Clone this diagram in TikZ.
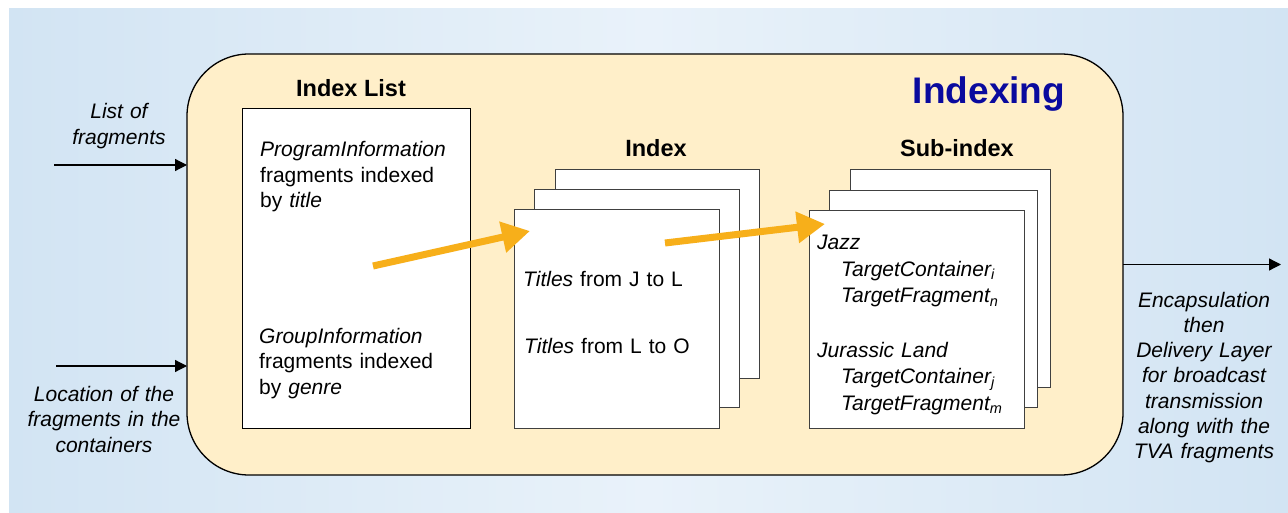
\documentclass[tikz,border=0pt]{standalone}
\usepackage{fontspec}
\setmainfont{Liberation Sans}
\usetikzlibrary{arrows.meta}
\definecolor{bgedge}{HTML}{D2E4F3}
\definecolor{bgmid}{HTML}{E9F2FA}
\definecolor{boxfill}{HTML}{FFEFC9}
\definecolor{navy}{HTML}{0A0A9E}
\definecolor{orangeA}{HTML}{F7AF1A}
\newcommand\lowidx[1]{\raisebox{-3.5pt}{\fontsize{14.5}{14.5}\selectfont #1}}
\begin{document}
\begin{tikzpicture}[x=1pt,y=-1pt,
  page/.style={draw=black!75, fill=white, line width=1pt, inner sep=0pt, outer sep=0pt},
  listbox/.style={draw=black, fill=white, line width=1pt, inner sep=0pt, outer sep=0pt},
  body/.style={font=\fontsize{21}{25.3}\selectfont, inner sep=0pt, anchor=base west, align=left, text width=#1},
  body/.default=220pt,
  label/.style={font=\fontsize{21}{25.3}\selectfont\itshape, inner sep=0pt, anchor=base, align=center, text width=#1},
  heading/.style={font=\fontsize{23.5}{28}\selectfont\bfseries, inner sep=0pt, anchor=base},
  flow/.style={-{Triangle[length=12pt,width=12pt]}, line width=1.2pt},
  hot/.style={draw=orangeA, line width=7pt, -{Triangle[length=28pt,width=30pt,fill=orangeA]}}
]
\useasboundingbox (0,0) rectangle (1288,513);
\shade[left color=bgedge, right color=bgedge, middle color=bgmid] (9,9) rectangle (1288,513);

% outer rounded box
\node[draw=black, line width=1.3pt, fill=boxfill, rounded corners=62pt,
      minimum width=936pt, minimum height=421pt, inner sep=0pt, outer sep=0pt] (outer) at (655,264.5) {};
\node[font=\fontsize{37}{44}\selectfont\bfseries, text=navy, inner sep=0pt, anchor=base] (ttl) at (989,104) {Indexing};

% Index List
\node[heading] (hlist) at (351,97) {Index List};
\node[listbox, minimum width=228pt, minimum height=319pt] (list) at (356,268.5) {};
\node[body] (pi) at (260,157) {\textit{ProgramInformation}\\fragments indexed\\by \textit{title}};
\node[body] (gi) at (259,343.5) {\textit{GroupInformation}\\fragments indexed\\by \textit{genre}};

% Index stack
\node[heading] (hidx) at (656,157) {Index};
\node[page, minimum width=204pt, minimum height=208pt] (idxC) at (657,274) {};
\node[page, minimum width=205pt, minimum height=217pt] (idxB) at (636.5,298.5) {};
\node[page, minimum width=205pt, minimum height=218pt] (idxA) at (616.5,319) {};
\node[body] (t1) at (523,286) {\textit{Titles} from J to L};
\node[body] (t2) at (524,353) {\textit{Titles} from L to O};

% Sub-index stack
\node[heading] (hsub) at (957,157) {Sub-index};
\node[page, minimum width=200pt, minimum height=217pt] (subC) at (950,278.5) {};
\node[page, minimum width=208pt, minimum height=216pt] (subB) at (933,299) {};
\node[page, minimum width=215pt, minimum height=217pt] (subA) at (916.5,319.5) {};
\node[body, font=\fontsize{21}{26.3}\selectfont\itshape] (jazz) at (817,250)
  {Jazz\\\hspace*{24pt}TargetContainer\lowidx{i}\\\hspace*{24pt}TargetFragment\lowidx{n}};
\node[body, font=\fontsize{21}{26.3}\selectfont\itshape] (jur) at (817,357.5)
  {Jurassic Land\\\hspace*{24pt}TargetContainer\lowidx{j}\\\hspace*{24pt}TargetFragment\lowidx{m}};

% orange arrows
\coordinate (o1s) at (373,266);
\coordinate (o1e) at (530,231);
\coordinate (o2s) at (665,243);
\coordinate (o2e) at (825,224);
\draw[hot] (o1s) -- (o1e);
\draw[hot] (o2s) -- (o2e);

% inputs and output
\node[label=200pt] (lin1) at (119,119) {List of\\fragments};
\node[label=200pt] (lin2) at (104,401.5) {Location of the\\fragments in the\\containers};
\node[label=200pt] (lout) at (1204,307) {Encapsulation\\then\\Delivery Layer\\for broadcast\\transmission\\along with the\\TVA fragments};
\coordinate (inA) at (54,165);
\coordinate (inB) at (56,366);
\coordinate (outR) at (1281,264.5);
\draw[flow] (inA) -- (inA -| outer.west);
\draw[flow] (inB) -- (inB -| outer.west);
\draw[flow] (outer.east) -- (outR);
\end{tikzpicture}
\end{document}
